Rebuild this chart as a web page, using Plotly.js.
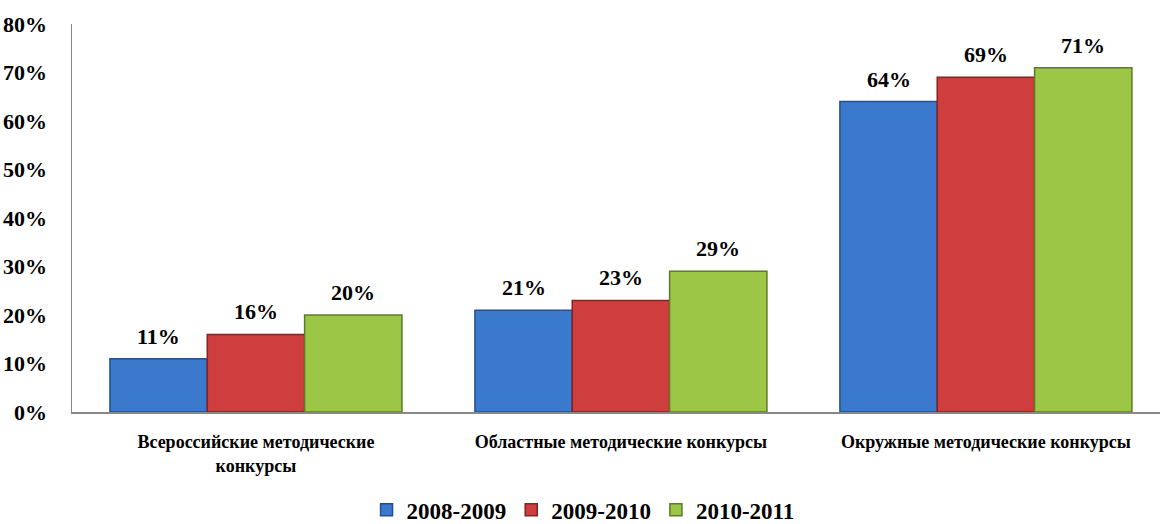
<!DOCTYPE html>
<html><head><meta charset="utf-8">
<script src="https://cdn.plot.ly/plotly-3.0.1.min.js"></script>
<style>html,body{margin:0;padding:0;background:#fff}#chart{width:1160px;height:524px}</style>
</head><body><div id="chart"></div>
<script>
const categories = ["Всероссийские методические<br>конкурсы", "Областные методические конкурсы", "Окружные методические конкурсы"];
const seriesNames = ["2008-2009", "2009-2010", "2010-2011"];
const values2008 = [11, 21, 64];
const values2009 = [16, 23, 69];
const values2010 = [20, 29, 71];
const yTickVals = [0, 10, 20, 30, 40, 50, 60, 70, 80];
const yTickText = ["0%", "10%", "20%", "30%", "40%", "50%", "60%", "70%", "80%"];

const seriesValues = [values2008, values2009, values2010];
const fills = ["#3a79cb", "#cf3e3e", "#9bc646"];
const edges = ["#234f8c", "#862222", "#5d7a26"];
const font = "Liberation Serif, Times New Roman, serif";

const traces = seriesValues.map((vals, i) => ({
  type: "bar",
  name: "<b>" + seriesNames[i] + "</b>",
  x: categories.map((c, k) => k),
  y: vals,
  marker: {color: fills[i], line: {color: edges[i], width: 1.5}},
  hoverinfo: "none"
}));

const barW = 0.8 / 3;
const annotations = [];
seriesValues.forEach((vals, i) => {
  vals.forEach((v, k) => {
    annotations.push({
      x: k + (i - 1) * barW, y: v, xref: "x", yref: "y",
      text: "<b>" + v + "%</b>", showarrow: false,
      yanchor: "bottom", yshift: 8,
      font: {family: font, size: 22, color: "#000"}
    });
  });
});

const layout = {
  width: 1160, height: 524,
  font: {family: font},
  margin: {l: 72, r: 0, t: 24, b: 112},
  paper_bgcolor: "#fff", plot_bgcolor: "#fff",
  barmode: "group", bargap: 0.2, bargroupgap: 0,
  showlegend: true,
  legend: {orientation: "h", x: 0.316, xref: "container", xanchor: "left", y: 0.027, yref: "container", yanchor: "middle",
    font: {family: font, size: 23, color: "#000"}, itemwidth: 30, tracegroupgap: 0},
  xaxis: {
    range: [-0.504, 2.477], tickmode: "array", tickvals: [0, 1, 2],
    ticktext: categories.map(c => "<b>" + c + "</b>"),
    showline: true, linecolor: "#888", linewidth: 1.5, showgrid: false, zeroline: false,
    ticks: "", tickfont: {family: font, size: 18, color: "#000"}, ticklabelstandoff: 13
  },
  yaxis: {
    range: [0, 80], tickmode: "array", tickvals: yTickVals, ticktext: yTickText.map(t => "<b>" + t + "</b>"),
    showline: true, linecolor: "#888", linewidth: 1.5, showgrid: false, zeroline: false,
    ticks: "", tickfont: {family: font, size: 22, color: "#000"}, ticklabelstandoff: 19
  },
  annotations: annotations
};

Plotly.newPlot("chart", traces, layout, {displayModeBar: false, staticPlot: true});
</script></body></html>
